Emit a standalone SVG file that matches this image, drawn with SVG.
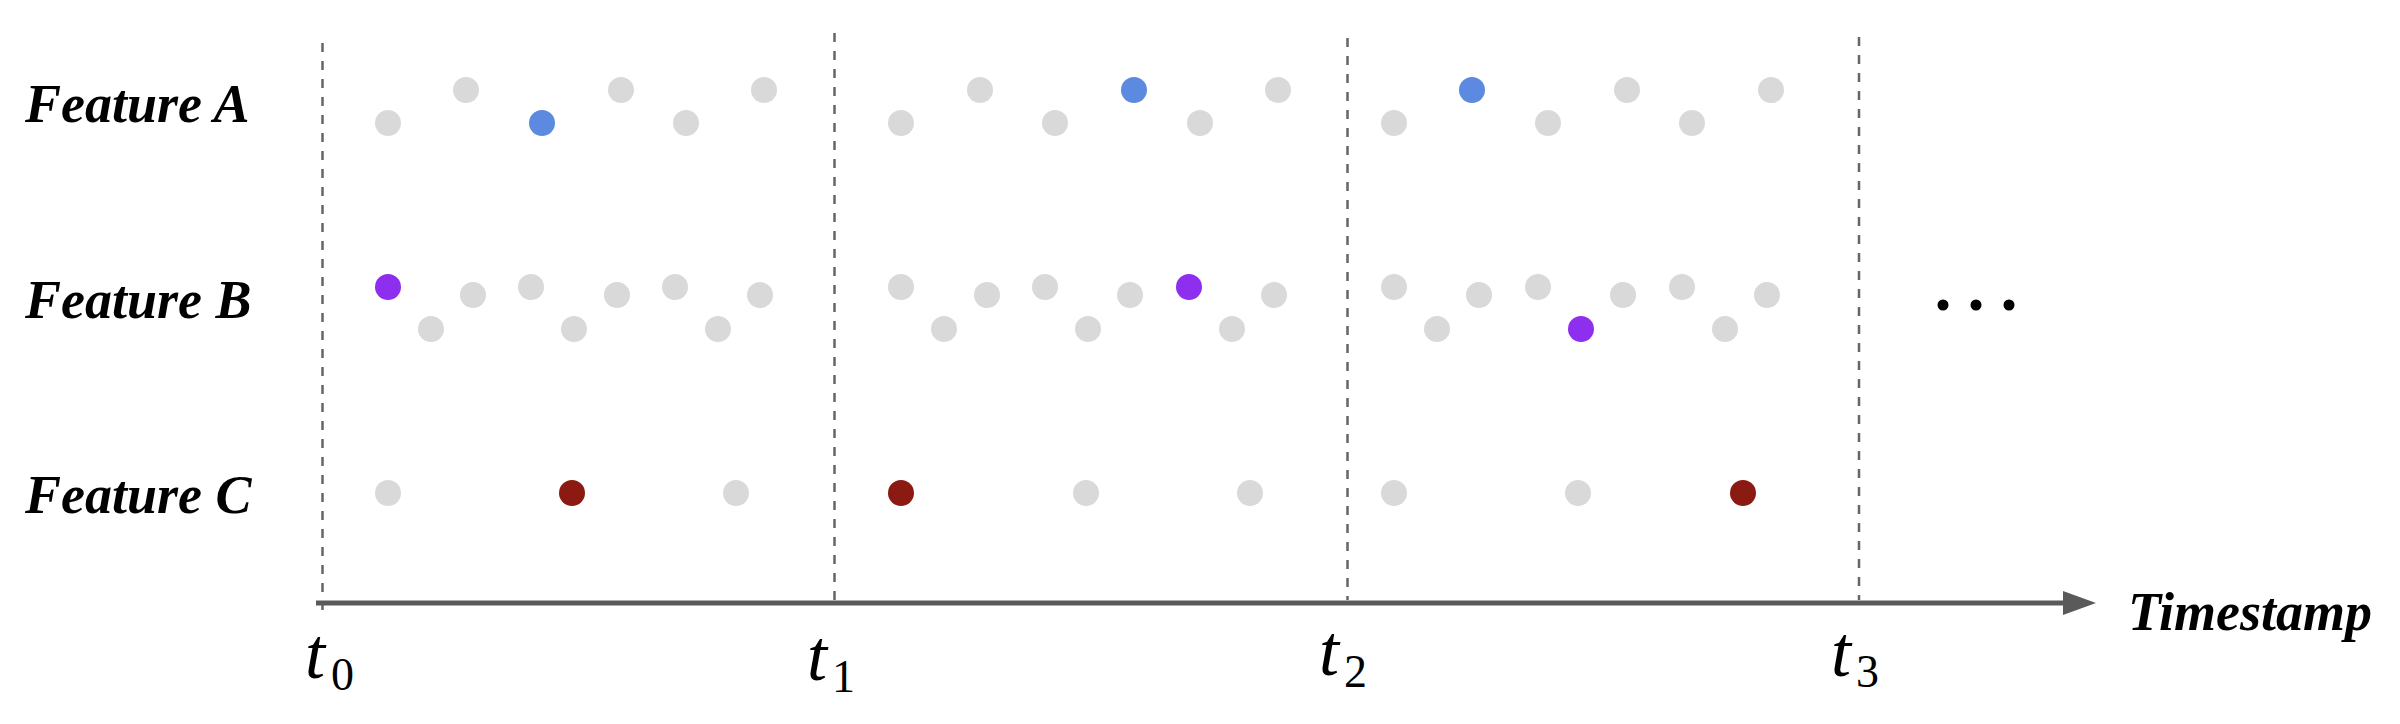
<svg xmlns="http://www.w3.org/2000/svg" width="2400" height="724" viewBox="0 0 2400 724">
<style>
.lbl{font-family:"Liberation Serif","Times New Roman",serif;font-weight:bold;font-style:italic;font-size:54px;fill:#000}
.tl{font-family:"Liberation Serif","Times New Roman",serif;font-style:italic;font-size:72px;fill:#000}
.ts{font-family:"Liberation Serif","Times New Roman",serif;font-size:46px;fill:#000}
.grid{stroke:#666;stroke-width:2.5;stroke-dasharray:9 9;fill:none}
.g{fill:#d9d9d9}
.bl{fill:#5b8ae0}
.pu{fill:#8e2ff0}
.rd{fill:#8b1a12}
</style>
<rect width="2400" height="724" fill="#fff"/>
<g id="gridlines">
<line class="grid" x1="322.5" y1="43" x2="322.5" y2="610"/>
<line class="grid" x1="834.5" y1="33" x2="834.5" y2="600"/>
<line class="grid" x1="1347.5" y1="38" x2="1347.5" y2="600"/>
<line class="grid" x1="1859" y1="37" x2="1859" y2="600"/>
</g>
<g id="axis">
<line x1="316" y1="603" x2="2066" y2="603" stroke="#5a5a5a" stroke-width="5"/>
<polygon points="2063,591 2096,603 2063,615" fill="#5a5a5a"/>
<text class="lbl" x="2128" y="630">Timestamp</text>
</g>
<g id="labels">
<text class="lbl" x="25" y="122">Feature A</text>
<text class="lbl" x="25" y="318">Feature B</text>
<text class="lbl" x="25" y="513">Feature C</text>
</g>
<g id="ticks">
<text class="tl" x="305" y="678">t</text><text class="ts" x="331" y="690">0</text>
<text class="tl" x="807" y="680">t</text><text class="ts" x="832" y="692">1</text>
<text class="tl" x="1319" y="675">t</text><text class="ts" x="1344" y="687">2</text>
<text class="tl" x="1831" y="676">t</text><text class="ts" x="1856" y="687">3</text>
</g>
<g id="featureA">
<circle class="g" cx="388" cy="123" r="13"/>
<circle class="g" cx="466" cy="90" r="13"/>
<circle class="bl" cx="542" cy="123" r="13"/>
<circle class="g" cx="621" cy="90" r="13"/>
<circle class="g" cx="686" cy="123" r="13"/>
<circle class="g" cx="764" cy="90" r="13"/>
<circle class="g" cx="901" cy="123" r="13"/>
<circle class="g" cx="980" cy="90" r="13"/>
<circle class="g" cx="1055" cy="123" r="13"/>
<circle class="bl" cx="1134" cy="90" r="13"/>
<circle class="g" cx="1200" cy="123" r="13"/>
<circle class="g" cx="1278" cy="90" r="13"/>
<circle class="g" cx="1394" cy="123" r="13"/>
<circle class="bl" cx="1472" cy="90" r="13"/>
<circle class="g" cx="1548" cy="123" r="13"/>
<circle class="g" cx="1627" cy="90" r="13"/>
<circle class="g" cx="1692" cy="123" r="13"/>
<circle class="g" cx="1771" cy="90" r="13"/>
</g>
<g id="featureB">
<circle class="pu" cx="388" cy="287" r="13"/>
<circle class="g" cx="431" cy="329" r="13"/>
<circle class="g" cx="473" cy="295" r="13"/>
<circle class="g" cx="531" cy="287" r="13"/>
<circle class="g" cx="574" cy="329" r="13"/>
<circle class="g" cx="617" cy="295" r="13"/>
<circle class="g" cx="675" cy="287" r="13"/>
<circle class="g" cx="718" cy="329" r="13"/>
<circle class="g" cx="760" cy="295" r="13"/>
<circle class="g" cx="901" cy="287" r="13"/>
<circle class="g" cx="944" cy="329" r="13"/>
<circle class="g" cx="987" cy="295" r="13"/>
<circle class="g" cx="1045" cy="287" r="13"/>
<circle class="g" cx="1088" cy="329" r="13"/>
<circle class="g" cx="1130" cy="295" r="13"/>
<circle class="pu" cx="1189" cy="287" r="13"/>
<circle class="g" cx="1232" cy="329" r="13"/>
<circle class="g" cx="1274" cy="295" r="13"/>
<circle class="g" cx="1394" cy="287" r="13"/>
<circle class="g" cx="1437" cy="329" r="13"/>
<circle class="g" cx="1479" cy="295" r="13"/>
<circle class="g" cx="1538" cy="287" r="13"/>
<circle class="pu" cx="1581" cy="329" r="13"/>
<circle class="g" cx="1623" cy="295" r="13"/>
<circle class="g" cx="1682" cy="287" r="13"/>
<circle class="g" cx="1725" cy="329" r="13"/>
<circle class="g" cx="1767" cy="295" r="13"/>
</g>
<g id="featureC">
<circle class="g" cx="388" cy="493" r="13"/>
<circle class="rd" cx="572" cy="493" r="13"/>
<circle class="g" cx="736" cy="493" r="13"/>
<circle class="rd" cx="901" cy="493" r="13"/>
<circle class="g" cx="1086" cy="493" r="13"/>
<circle class="g" cx="1250" cy="493" r="13"/>
<circle class="g" cx="1394" cy="493" r="13"/>
<circle class="g" cx="1578" cy="493" r="13"/>
<circle class="rd" cx="1743" cy="493" r="13"/>
</g>
<g id="ellipsis">
<circle cx="1943" cy="305" r="5.5" fill="#000"/>
<circle cx="1976" cy="305" r="5.5" fill="#000"/>
<circle cx="2009" cy="305" r="5.5" fill="#000"/>
</g>
</svg>
